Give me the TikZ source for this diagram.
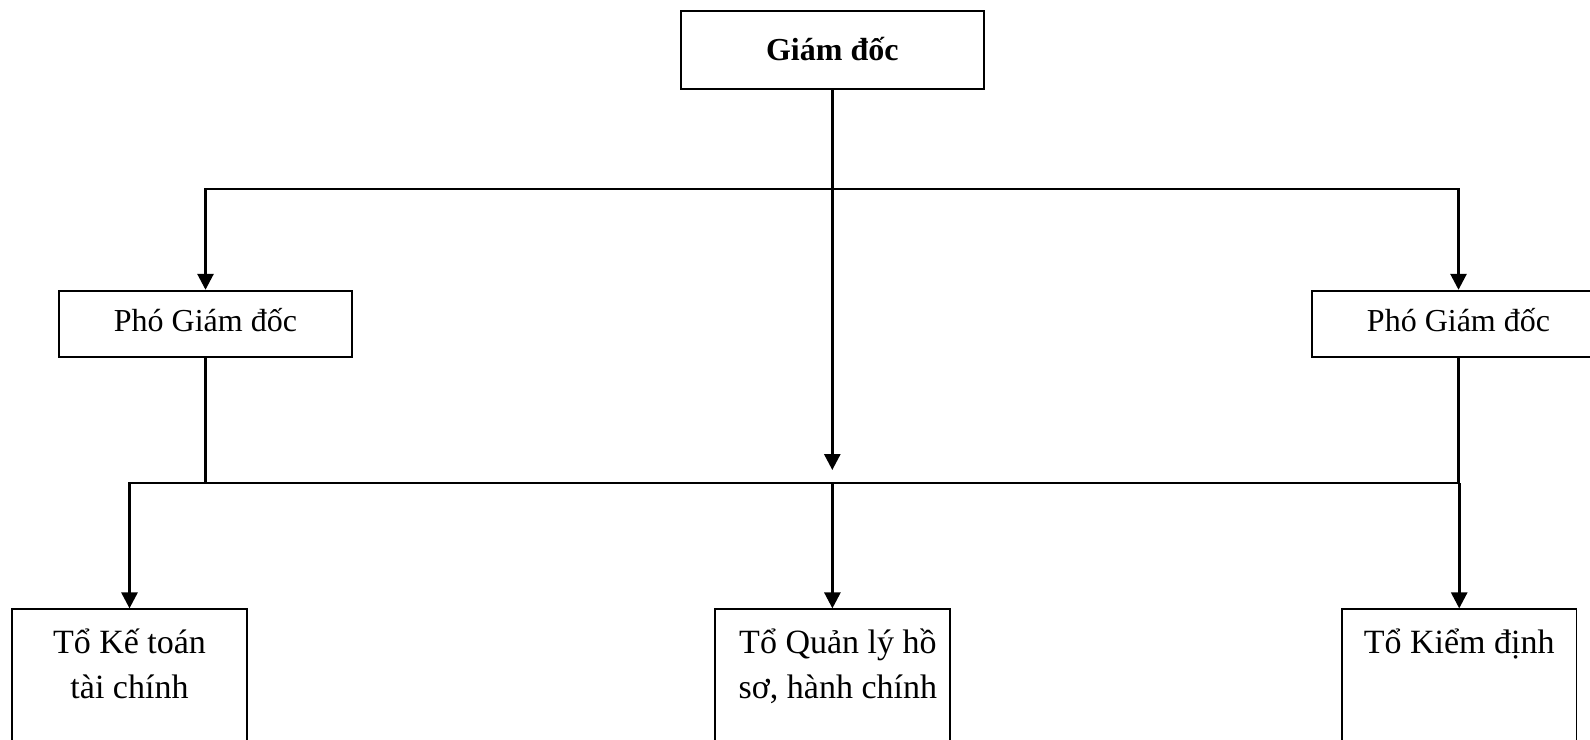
\documentclass[tikz,border=0pt]{standalone}
\usepackage{fontspec}
\setmainfont{Liberation Serif}
\usetikzlibrary{arrows.meta}
\tikzset{
  box/.style={draw, line width=0.9pt, inner xsep=0pt, inner ysep=0pt, font=\fontsize{16pt}{22.5pt}\selectfont},
  lowbox/.style={box, font=\fontsize{17pt}{22.5pt}\selectfont, minimum width=117.25pt, text height=21.85pt, text depth=80pt},
  conn/.style={line width=1.4pt},
  arr/.style={line width=1.4pt, -{Triangle[length=8pt,width=8pt]}},
}
\newcommand{\twolines}[2]{\parbox[t]{115pt}{\centering #1\\#2}}
\begin{document}
\begin{tikzpicture}[x=0.5pt,y=-0.5pt]
\useasboundingbox (0,0) rectangle (1590,739);
\clip (0,0) rectangle (1590,739);
\fill[white] (0,0) rectangle (1590,739);
% boxes
\node[box, anchor=base, minimum width=151.65pt, text height=24.65pt, text depth=14.35pt] (gd) at (832.3,60) {\textbf{Giám đốc}};
\node[box, anchor=base, minimum width=146.5pt, text height=20.15pt, text depth=12.85pt] (pgdL) at (205.5,331) {Phó Giám đốc};
\node[box, anchor=base, minimum width=146.5pt, text height=20.15pt, text depth=12.85pt] (pgdR) at (1458.5,331) {Phó Giám đốc};
\node[lowbox, anchor=base] (kt) at (129.5,653) {\twolines{Tổ Kế toán}{tài chính}};
\node[lowbox, anchor=base] (ql) at (832.4,653) {\twolines{\hspace*{5.5pt}Tổ Quản lý hồ}{\hspace*{5.5pt}sơ, hành chính}};
\node[lowbox, anchor=base] (kd) at (1459.2,653) {\parbox[t]{115pt}{\centering Tổ Kiểm định}};
% coordinates
\coordinate (jt) at (832.3,189);
\coordinate (gdtip) at (832.3,470);
\coordinate (bL) at (129.5,483);
\coordinate (bR) at (1459.2,483);
% connectors
\draw[arr] (gd.south) -- (gdtip);
\draw[arr] (jt) -| (pgdL.north);
\draw[arr] (jt) -| (pgdR.north);
\draw[conn] (pgdL.south) -- (pgdL.south |- bL);
\draw[conn] (pgdR.south) -- (pgdR.south |- bR);
\draw[arr] (bR) -- (bL) -- (kt.north);
\draw[arr] (bR) -- (kd.north);
\draw[arr] (ql.north |- bL) -- (ql.north);
\end{tikzpicture}
\end{document}
